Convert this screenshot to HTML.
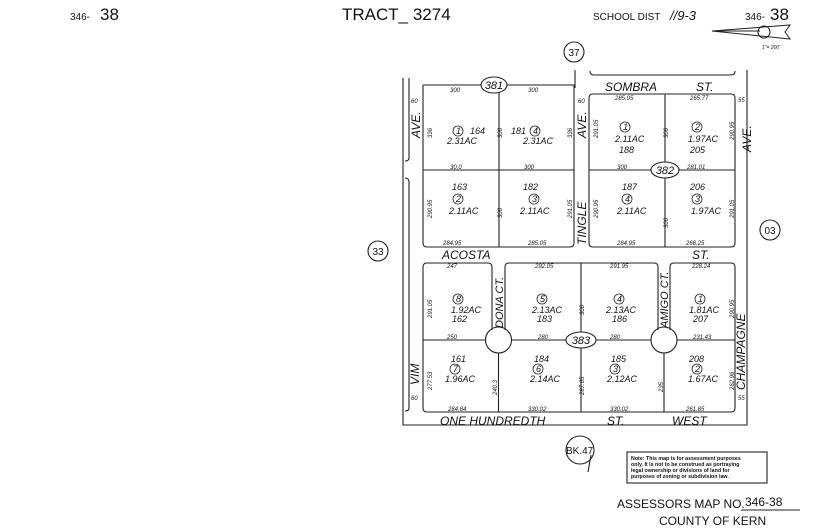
<!DOCTYPE html>
<html><head><style>
html,body{margin:0;padding:0;background:#fff;}
svg{display:block;}
text{font-family:"Liberation Sans",sans-serif;fill:#111;}
.i{font-style:italic;}
.s{font-size:6px;font-style:italic;}
.m{font-size:9px;font-style:italic;}
.st{font-size:12px;font-style:italic;}
.sc{font-size:11px;font-style:italic;}
</style></head><body>
<svg width="825" height="530" viewBox="0 0 825 530" xmlns="http://www.w3.org/2000/svg">
<g fill="none" stroke="#222" stroke-width="1.1">
<path d="M403,78 V425 H747 V70"/>
<path d="M575,70 V88"/>
<path d="M409,78 V158 Q409,161 405,161"/>
<path d="M405,178 Q409,178 409,182 V408 Q409,411 405,411"/>
<path d="M590,71 Q590,75 594,75 H731 Q735,75 735,71"/>
<path d="M423,85 V243 Q423,247 427,247 H570 Q574,247 574,243 V85 H423"/>
<path d="M499,85 V247 M423,170 H574"/>
<path d="M593,94 H731 Q735,94 735,98 V243 Q735,247 731,247 H593 Q589,247 589,243 V98 Q589,94 593,94"/>
<path d="M665,94 V247 M589,170 H735"/>
<path d="M427,263 H488 Q492,263 492,267 V330 M505,330 V267 Q505,263 509,263 H654 Q658,263 658,267 V330 M670,330 V267 Q670,263 674,263 H731 Q735,263 735,267 V408 Q735,412 731,412 H427 Q423,412 423,408 V267 Q423,263 427,263"/>
<circle cx="498.5" cy="340" r="13"/>
<circle cx="664" cy="340" r="13"/>
<path d="M423,340 H485.5 M511.5,340 H651 M677,340 H735"/>
<path d="M498.5,353 V412 M581,263 V412 M664,353 V412"/>
<ellipse cx="494" cy="85" rx="13" ry="8" fill="#fff"/>
<ellipse cx="665" cy="170" rx="14" ry="8" fill="#fff"/>
<ellipse cx="581" cy="340" rx="15" ry="8" fill="#fff"/>
<circle cx="574" cy="52" r="10"/>
<circle cx="378" cy="251" r="10"/>
<circle cx="770" cy="230" r="10"/>
<circle cx="580" cy="450" r="14"/>
<path d="M591,455 L588,472"/>
<rect x="627" y="452" width="140" height="31"/>
<path d="M712,31 H760 M712,31 L790,25 L785,32 L790,39 Z" stroke-width="1"/>
<circle cx="764" cy="32" r="6"/>
<path d="M741,510 H800" stroke-width="1"/>
</g>
<g fill="none" stroke="#222" stroke-width="0.8">
<circle cx="458" cy="131" r="5"/><circle cx="535" cy="131" r="5"/>
<circle cx="458" cy="199" r="5"/><circle cx="534" cy="199" r="5"/>
<circle cx="625" cy="127" r="5"/><circle cx="697" cy="127" r="5"/>
<circle cx="627" cy="199" r="5"/><circle cx="697" cy="199" r="5"/>
<circle cx="458" cy="299" r="5"/><circle cx="542" cy="299" r="5"/><circle cx="619" cy="299" r="5"/><circle cx="700" cy="299" r="5"/>
<circle cx="455" cy="369" r="5"/><circle cx="538" cy="369" r="5"/><circle cx="615" cy="369" r="5"/><circle cx="697" cy="369" r="5"/>
</g>
<text x="70" y="20" font-size="10">346-</text><text x="100" y="20" font-size="17">38</text>
<text x="342" y="20" font-size="17">TRACT_ 3274</text>
<text x="593" y="20" font-size="10">SCHOOL DIST</text><text x="670" y="20" font-size="13" class="i">//9-3</text>
<text x="745" y="20" font-size="10">346-</text><text x="770" y="20" font-size="17">38</text>
<text x="762" y="49" font-size="5" class="i">1"= 200'</text>
<text x="574" y="56" font-size="10" text-anchor="middle">37</text>
<text x="378" y="255" font-size="10" text-anchor="middle">33</text>
<text x="770" y="234" font-size="10" text-anchor="middle">03</text>
<text x="494" y="89" font-size="11" class="i" text-anchor="middle">381</text>
<text x="665" y="174" font-size="11" class="i" text-anchor="middle">382</text>
<text x="581" y="344" font-size="11" class="i" text-anchor="middle">383</text>
<text x="566" y="454" font-size="10">BK.47</text>
<text class="st" x="605" y="91">SOMBRA</text><text class="st" x="696" y="91">ST.</text>
<text class="st" x="442" y="259">ACOSTA</text><text class="st" x="692" y="259">ST.</text>
<text class="st" x="440" y="425">ONE  HUNDREDTH</text><text class="st" x="607" y="425">ST.</text><text class="st" x="672" y="425">WEST</text>
<text class="st" transform="translate(420,138) rotate(-90)">AVE.</text>
<text class="st" transform="translate(586,138) rotate(-90)">AVE.</text>
<text class="st" transform="translate(586,245) rotate(-90)">TINGLE</text>
<text class="st" transform="translate(751,152) rotate(-90)">AVE.</text>
<text class="st" transform="translate(745,390) rotate(-90)">CHAMPAGNE</text>
<text class="st" transform="translate(419,385) rotate(-90)">VIM</text>
<text class="sc" transform="translate(503,328) rotate(-90)">DONA  CT.</text>
<text class="sc" transform="translate(668,328) rotate(-90)">AMIGO  CT.</text>
<text class="s" x="450" y="92">300</text><text class="s" x="528" y="92">300</text>
<text class="s" x="450" y="169">30.0</text><text class="s" x="524" y="169">300</text>
<text class="s" x="443" y="245">284.95</text><text class="s" x="528" y="245">285.05</text>
<text class="s" x="411" y="103">60</text><text class="s" x="578" y="103">60</text>
<text class="s" x="615" y="100">285.05</text><text class="s" x="690" y="100">265.77</text>
<text class="s" x="617" y="169">300</text><text class="s" x="687" y="169">281.01</text>
<text class="s" x="617" y="245">284.95</text><text class="s" x="686" y="245">266.25</text>
<text class="s" x="738" y="102">55</text>
<text class="s" transform="translate(432,138) rotate(-90)">336</text>
<text class="s" transform="translate(502,138) rotate(-90)">306</text>
<text class="s" transform="translate(572,138) rotate(-90)">336</text>
<text class="s" transform="translate(432,218) rotate(-90)">290.95</text>
<text class="s" transform="translate(502,218) rotate(-90)">306</text>
<text class="s" transform="translate(572,218) rotate(-90)">291.05</text>
<text class="s" transform="translate(598,138) rotate(-90)">291.05</text>
<text class="s" transform="translate(668,138) rotate(-90)">306</text>
<text class="s" transform="translate(734,140) rotate(-90)">290.95</text>
<text class="s" transform="translate(598,218) rotate(-90)">290.95</text>
<text class="s" transform="translate(668,228) rotate(-90)">306</text>
<text class="s" transform="translate(734,218) rotate(-90)">291.05</text>
<text class="m" x="456" y="134">1</text><text class="m" x="470" y="134">164</text><text class="m" x="447" y="144">2.31AC</text>
<text class="m" x="511" y="134">181</text><text class="m" x="533" y="134">4</text><text class="m" x="523" y="144">2.31AC</text>
<text class="m" x="452" y="190">163</text><text class="m" x="456" y="202">2</text><text class="m" x="449" y="214">2.11AC</text>
<text class="m" x="523" y="190">182</text><text class="m" x="532" y="202">3</text><text class="m" x="520" y="214">2.11AC</text>
<text class="m" x="623" y="130">1</text><text class="m" x="615" y="142">2.11AC</text><text class="m" x="619" y="153">188</text>
<text class="m" x="695" y="130">2</text><text class="m" x="688" y="142">1.97AC</text><text class="m" x="690" y="153">205</text>
<text class="m" x="622" y="190">187</text><text class="m" x="625" y="202">4</text><text class="m" x="617" y="214">2.11AC</text>
<text class="m" x="690" y="190">206</text><text class="m" x="695" y="202">3</text><text class="m" x="691" y="214">1.97AC</text>
<text class="s" x="447" y="268">247</text><text class="s" x="535" y="268">292.05</text><text class="s" x="610" y="268">291.95</text><text class="s" x="692" y="268">228.24</text>
<text class="s" x="447" y="339">250</text><text class="s" x="538" y="339">280</text><text class="s" x="610" y="339">280</text><text class="s" x="693" y="339">231.43</text>
<text class="s" x="448" y="411">284.84</text><text class="s" x="528" y="411">330.02</text><text class="s" x="610" y="411">330.02</text><text class="s" x="686" y="411">261.85</text>
<text class="s" x="411" y="400">60</text><text class="s" x="738" y="400">55</text>
<text class="s" transform="translate(432,318) rotate(-90)">291.05</text>
<text class="s" transform="translate(584,315) rotate(-90)">306</text>
<text class="s" transform="translate(734,318) rotate(-90)">290.95</text>
<text class="s" transform="translate(432,390) rotate(-90)">277.53</text>
<text class="s" transform="translate(497,395) rotate(-90)">240.3</text>
<text class="s" transform="translate(584,395) rotate(-90)">287.65</text>
<text class="s" transform="translate(663,392) rotate(-90)">235</text>
<text class="s" transform="translate(734,390) rotate(-90)">262.96</text>
<text class="m" x="456" y="302">8</text><text class="m" x="451" y="313">1.92AC</text><text class="m" x="452" y="322">162</text>
<text class="m" x="540" y="302">5</text><text class="m" x="532" y="313">2.13AC</text><text class="m" x="537" y="322">183</text>
<text class="m" x="617" y="302">4</text><text class="m" x="606" y="313">2.13AC</text><text class="m" x="612" y="322">186</text>
<text class="m" x="698" y="302">1</text><text class="m" x="689" y="313">1.81AC</text><text class="m" x="693" y="322">207</text>
<text class="m" x="451" y="362">161</text><text class="m" x="453" y="372">7</text><text class="m" x="445" y="382">1.96AC</text>
<text class="m" x="534" y="362">184</text><text class="m" x="536" y="372">6</text><text class="m" x="530" y="382">2.14AC</text>
<text class="m" x="611" y="362">185</text><text class="m" x="613" y="372">3</text><text class="m" x="607" y="382">2.12AC</text>
<text class="m" x="689" y="362">208</text><text class="m" x="695" y="372">2</text><text class="m" x="688" y="382">1.67AC</text>
<text x="631" y="460" font-size="5.3" font-weight="bold">Note: This map is for assessment purposes</text>
<text x="631" y="466" font-size="5.3" font-weight="bold">only. It is not to be construed as portraying</text>
<text x="631" y="472" font-size="5.3" font-weight="bold">legal ownership or divisions of land for</text>
<text x="631" y="478" font-size="5.3" font-weight="bold">purposes of zoning or subdivision law.</text>
<text x="617" y="508" font-size="12">ASSESSORS MAP NO.</text><text x="745" y="506" font-size="12">346-38</text>
<text x="659" y="525" font-size="12">COUNTY OF KERN</text>
</svg>
</body></html>
